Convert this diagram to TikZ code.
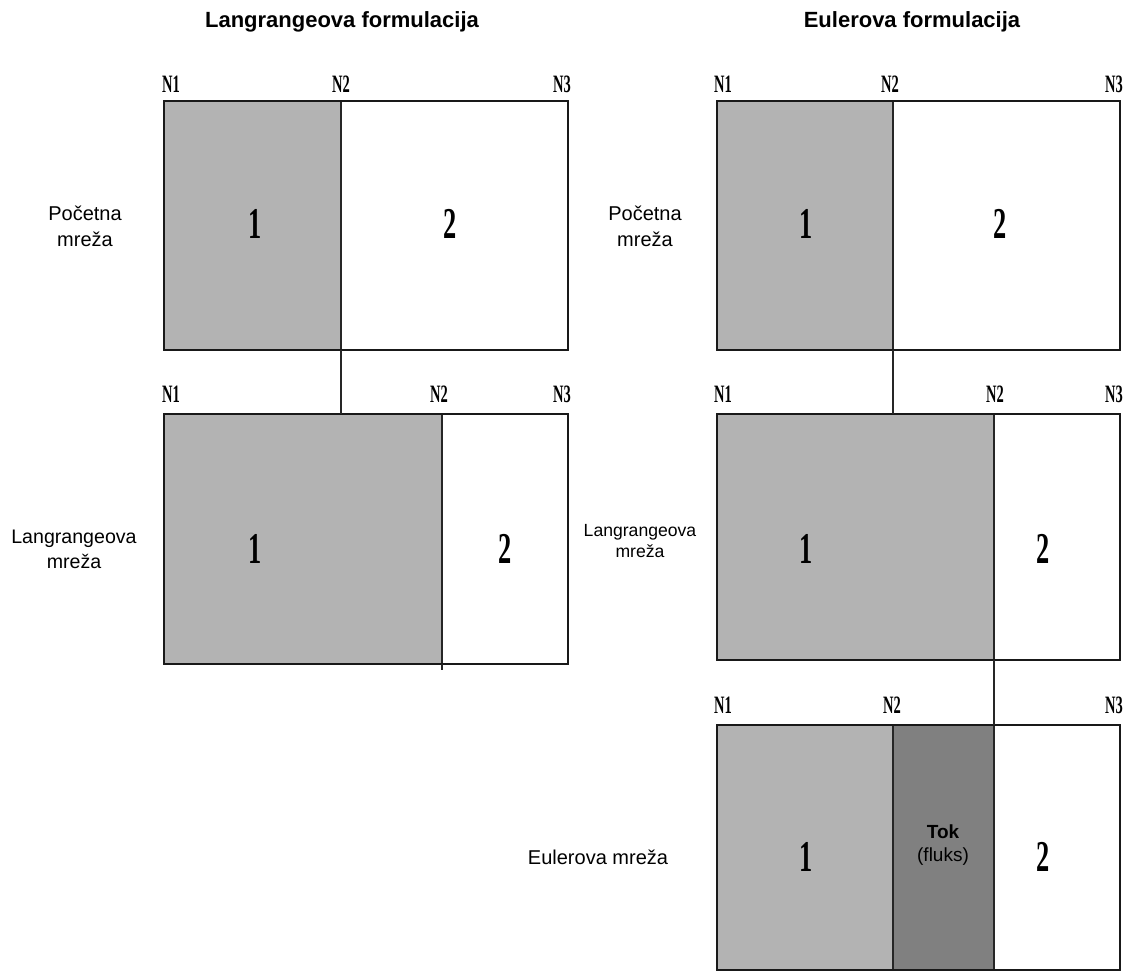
\documentclass[tikz,border=0pt]{standalone}
\usepackage{fontspec}
\setmainfont{Liberation Serif}
\setsansfont{Liberation Sans}
\definecolor{lightg}{HTML}{B3B3B3}
\definecolor{darkg}{HTML}{808080}
\tikzset{
  cell/.style={draw=black!85, line width=2pt, anchor=north west, inner sep=0pt, outer sep=0pt},
  frame/.style={draw=black!90, line width=2.8pt, line cap=round, line join=round},
  conn/.style={draw=black!85, line width=1.8pt},
  nlabel/.style={font=\fontsize{25}{25}\selectfont\bfseries, inner sep=0pt},
  num/.style={font=\fontsize{44}{44}\selectfont\bfseries, inner sep=0pt},
  side/.style={font=\sffamily\fontsize{20}{26}\selectfont, align=center, inner sep=0pt},
  ttl/.style={font=\sffamily\bfseries\fontsize{22}{22}\selectfont, inner sep=0pt}
}
\newcommand{\nn}[1]{\scalebox{0.58}[1]{#1}}
\newcommand{\dg}[1]{\scalebox{0.6}[1]{#1}}
\begin{document}
\begin{tikzpicture}[x=1pt,y=-1pt]
\useasboundingbox[fill=white] (0,0) rectangle (1133,972);
% titles
\node[ttl] (tL) at (342,22) {Langrangeova formulacija};
\node[ttl] (tR) at (912,22) {Eulerova formulacija};

% ---------- left column ----------
\node[cell, fill=lightg, minimum width=177, minimum height=249] (L1a) at (164,101) {};
\node[cell, fill=white, minimum width=227, minimum height=249] (L1b) at (341,101) {};
\draw[frame] (164,101) rectangle (568,350);
\node[cell, fill=lightg, minimum width=278, minimum height=250] (L2a) at (164,414) {};
\node[cell, fill=white, minimum width=126, minimum height=250] (L2b) at (442,414) {};
\draw[frame] (164,414) rectangle (568,664);
\draw[conn] (L1a.south east) -- (L1a.south east |- L2a.north);
\coordinate (L2ext) at ([yshift=-6pt]L2a.south east);
\draw[conn] (L2a.south east) -- (L2ext);

\node[nlabel] (L1n1) at (171,84) {\nn{N1}};
\node[nlabel] (L1n2) at (341,84) {\nn{N2}};
\node[nlabel] (L1n3) at (562,84) {\nn{N3}};
\node[nlabel] (L2n1) at (171,394) {\nn{N1}};
\node[nlabel] (L2n2) at (439,394) {\nn{N2}};
\node[nlabel] (L2n3) at (562,394) {\nn{N3}};

\node[num] (L1d1) at (255,224) {\dg{1}};
\node[num] (L1d2) at (450,224) {\dg{2}};
\node[num] (L2d1) at (255,549) {\dg{1}};
\node[num] (L2d2) at (505,549) {\dg{2}};

\node[side] (Ls1) at (85,226) {Početna\\mreža};
\node[side, font=\sffamily\fontsize{19.6}{25}\selectfont] (Ls2) at (74,549) {Langrangeova\\mreža};

% ---------- right column ----------
\node[cell, fill=lightg, minimum width=176, minimum height=249] (R1a) at (717,101) {};
\node[cell, fill=white, minimum width=227, minimum height=249] (R1b) at (893,101) {};
\draw[frame] (717,101) rectangle (1120,350);
\node[cell, fill=lightg, minimum width=277, minimum height=246] (R2a) at (717,414) {};
\node[cell, fill=white, minimum width=126, minimum height=246] (R2b) at (994,414) {};
\draw[frame] (717,414) rectangle (1120,660);
\node[cell, fill=lightg, minimum width=176, minimum height=245] (R3a) at (717,725) {};
\node[cell, fill=darkg, minimum width=101, minimum height=245] (R3b) at (893,725) {};
\node[cell, fill=white, minimum width=126, minimum height=245] (R3c) at (994,725) {};
\draw[frame] (717,725) rectangle (1120,970);
\draw[conn] (R1a.south east) -- (R1a.south east |- R2a.north);
\draw[conn] (R2a.south east) -- (R2a.south east |- R3b.north);

\node[nlabel] (R1n1) at (723,84) {\nn{N1}};
\node[nlabel] (R1n2) at (890,84) {\nn{N2}};
\node[nlabel] (R1n3) at (1114,84) {\nn{N3}};
\node[nlabel] (R2n1) at (723,394) {\nn{N1}};
\node[nlabel] (R2n2) at (995,394) {\nn{N2}};
\node[nlabel] (R2n3) at (1114,394) {\nn{N3}};
\node[nlabel] (R3n1) at (723,705) {\nn{N1}};
\node[nlabel] (R3n2) at (892,705) {\nn{N2}};
\node[nlabel] (R3n3) at (1114,705) {\nn{N3}};

\node[num] (R1d1) at (806,224) {\dg{1}};
\node[num] (R1d2) at (1000,224) {\dg{2}};
\node[num] (R2d1) at (806,549) {\dg{1}};
\node[num] (R2d2) at (1043,549) {\dg{2}};
\node[num] (R3d1) at (806,857) {\dg{1}};
\node[num] (R3d2) at (1043,857) {\dg{2}};
\node[font=\sffamily\bfseries\fontsize{19}{19}\selectfont, inner sep=0pt] (tok) at (943,832) {Tok};
\node[font=\sffamily\fontsize{19}{19}\selectfont, inner sep=0pt] (fl) at (943,857) {(fluks)};

\node[side] (Rs1) at (645,226) {Početna\\mreža};
\node[side, font=\sffamily\fontsize{17.6}{21}\selectfont] (Rs2) at (640,541) {Langrangeova\\mreža};
\node[side] (Rs3) at (598,857) {Eulerova mreža};
\end{tikzpicture}
\end{document}
